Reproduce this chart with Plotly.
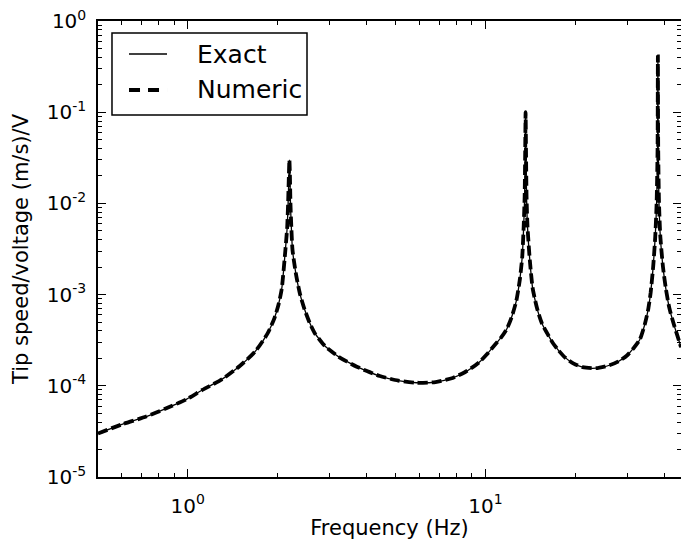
import plotly.graph_objects as go
import math

# Frequency (Hz) and tip speed/voltage ((m/s)/V)
freq = [0.50, 0.605, 0.726, 0.848, 0.99, 1.12, 1.31, 1.50, 1.69, 1.86, 1.96, 2.02, 2.07,
        2.13, 2.16, 2.175, 2.188, 2.197, 2.206, 2.215, 2.23, 2.25, 2.31, 2.38, 2.47, 2.57,
        2.67, 2.78, 2.89, 3.0, 3.2, 3.42, 3.70, 4.0, 4.42, 5.1, 5.88, 6.8, 7.77, 8.5, 9.07,
        9.6, 10.1, 10.75, 11.3, 11.8, 12.24, 12.7,
        13.05, 13.3, 13.45, 13.55, 13.61, 13.65, 13.69, 13.75, 13.85, 14.1, 14.4, 14.7,
        15.0, 15.5, 16.1, 16.85, 17.6, 18.5, 19.8, 21.2, 23.5, 26.1, 28.0, 29.9, 31.5,
        33.0, 34.3, 35.2, 35.9,
        36.6, 37.2, 37.6, 37.88, 37.97, 38.06, 38.3, 38.7, 39.5, 40.4, 41.5, 42.8, 44.2, 45.4]
exact = [3.0e-5, 3.8e-5, 4.6e-5, 5.66e-5, 7.1e-5, 9.0e-5, 1.19e-4, 1.66e-4, 2.4e-4,
         3.8e-4, 5.6e-4, 7.8e-4, 1.15e-3,
         3.1e-3, 5.5e-3, 1.0e-2, 2.0e-2, 3.0e-2, 2.0e-2, 1.0e-2, 5.5e-3, 3.1e-3, 1.7e-3,
         1.04e-3, 6.9e-4, 4.9e-4,
         3.8e-4, 3.18e-4, 2.73e-4, 2.47e-4, 2.1e-4, 1.85e-4, 1.62e-4, 1.45e-4, 1.28e-4,
         1.14e-4, 1.08e-4, 1.1e-4, 1.22e-4, 1.4e-4, 1.6e-4,
         1.85e-4, 2.2e-4, 2.8e-4, 3.4e-4, 4.2e-4, 5.6e-4, 8.5e-4,
         1.45e-3, 2.6e-3, 5.6e-3, 1.2e-2, 4.0e-2, 1.0e-1, 4.0e-2, 1.2e-2, 5.6e-3,
         2.4e-3, 1.2e-3, 8.6e-4,
         6.6e-4, 4.8e-4, 3.8e-4, 2.95e-4, 2.45e-4, 2.05e-4, 1.75e-4, 1.6e-4, 1.56e-4,
         1.68e-4, 1.85e-4, 2.15e-4, 2.6e-4,
         3.2e-4, 4.7e-4, 6.8e-4, 1.05e-3,
         2.0e-3, 4.3e-3, 1.0e-2, 4.0e-2, 4.1e-1, 4.0e-2, 1.0e-2, 4.3e-3, 2.0e-3,
         1.15e-3, 7.1e-4, 4.9e-4, 3.5e-4, 2.65e-4]
numeric = list(exact)

series_names = ["Exact", "Numeric"]
x_tickvals = [1, 10]
x_ticktext = ["10<sup>0</sup>", "10<sup>1</sup>"]
y_tickvals = [1e-5, 1e-4, 1e-3, 1e-2, 1e-1, 1e0]
y_ticktext = ["10<sup>-5</sup>", "10<sup>-4</sup>", "10<sup>-3</sup>",
              "10<sup>-2</sup>", "10<sup>-1</sup>", "10<sup>0</sup>"]

x_minor = [m * 10 ** e for e in (-1, 0, 1) for m in range(2, 10)]
y_minor = [m * 10 ** e for e in range(-5, 0) for m in range(2, 10)]

FONT = "DejaVu Sans"
DASH = "10px,4px"
THIN = dict(color="black", width=1.3)
THICK = dict(color="black", width=3.8, dash=DASH)

fig = go.Figure()
fig.add_trace(go.Scatter(x=freq, y=exact, mode="lines", name=series_names[0],
                         line=dict(shape="spline", smoothing=0.6, **THIN), showlegend=False))
fig.add_trace(go.Scatter(x=freq, y=numeric, mode="lines", name=series_names[1],
                         line=dict(shape="spline", smoothing=0.6, **THICK), showlegend=False))

axis_common = dict(showline=True, linecolor="black", linewidth=1.5, mirror="allticks",
                   ticks="inside", ticklen=8, tickwidth=1.2, tickcolor="black",
                   showgrid=False, zeroline=False,
                   tickfont=dict(family=FONT, size=20, color="black"))

fig.update_xaxes(type="log", range=[math.log10(0.5), math.log10(45.4)],
                 tickvals=x_tickvals, ticktext=x_ticktext, ticklabelstandoff=10,
                 minor=dict(tickvals=x_minor, ticks="inside", ticklen=4,
                            tickcolor="black", tickwidth=1, showgrid=False),
                 title=dict(text="Frequency (Hz)", font=dict(family=FONT, size=21, color="black"),
                            standoff=15),
                 **axis_common)
fig.update_yaxes(type="log", range=[-5, 0],
                 tickvals=y_tickvals, ticktext=y_ticktext, ticklabelstandoff=6,
                 minor=dict(tickvals=y_minor, ticks="inside", ticklen=4,
                            tickcolor="black", tickwidth=1, showgrid=False),
                 title=dict(text="Tip speed/voltage (m/s)/V",
                            font=dict(family=FONT, size=21, color="black"), standoff=12),
                 **axis_common)

# legend box (paper coordinates of the plot area)
lx0, lx1, ly0, ly1 = 0.024, 0.3585, 0.7939, 0.9737
row_y = [0.9276, 0.8487]
sx0, sx1, tx = 0.0532, 0.1184, 0.1664
shapes = [dict(type="rect", xref="paper", yref="paper", x0=lx0, x1=lx1, y0=ly0, y1=ly1,
               line=dict(color="black", width=1.5), fillcolor="white", layer="above")]
shapes.append(dict(type="line", xref="paper", yref="paper", x0=sx0, x1=sx1,
                   y0=row_y[0], y1=row_y[0], line=THIN, layer="above"))
shapes.append(dict(type="line", xref="paper", yref="paper", x0=sx0, x1=sx1,
                   y0=row_y[1], y1=row_y[1], line=dict(color="black", width=3.8, dash="11px,8px"),
                   layer="above"))
annotations = [dict(xref="paper", yref="paper", x=tx, y=yy, text=nm, showarrow=False,
                    xanchor="left", yanchor="middle",
                    font=dict(family=FONT, size=25, color="black"))
               for nm, yy in zip(series_names, row_y)]

fig.update_layout(
    width=681, height=540,
    margin=dict(l=98, r=0, t=21, b=63, autoexpand=False),
    plot_bgcolor="white", paper_bgcolor="white",
    font=dict(family=FONT, color="black"),
    showlegend=False,
    shapes=shapes, annotations=annotations,
)

fig.write_html("out.html")
